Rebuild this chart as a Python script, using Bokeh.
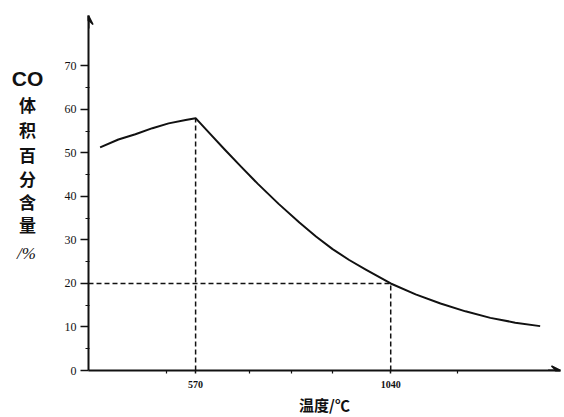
from bokeh.plotting import figure
from bokeh.layouts import row
from bokeh.models import Range1d, FixedTicker, Arrow, VeeHead, ColumnDataSource
from bokeh.core.properties import value
from bokeh.embed import file_html
from bokeh.resources import INLINE

# ---- data ----
temperature = [340, 384, 425, 466, 505, 546, 570, 600, 640, 680, 720, 770, 820, 860,
               900, 940, 980, 1040, 1100, 1160, 1220, 1280, 1340, 1400]
co_percent = [51.3, 53.1, 54.3, 55.7, 56.8, 57.6, 58.0, 54.9, 50.8, 46.8, 42.9, 38.3, 34.0, 30.8,
              27.9, 25.4, 23.2, 20.0, 17.5, 15.4, 13.6, 12.1, 11.0, 10.2]

peak_temp = 570
peak_co = 58.0
mark_temp = 1040
mark_co = 20

y_ticks = [0, 10, 20, 30, 40, 50, 60, 70]
y_minor = [5, 15, 25, 35, 45, 55, 65]
x_ticks = [570, 1040]
x_minor = [500, 700, 800, 900, 1200]

x_start, x_end = 312, 1449
y_start, y_end = 0, 81.6

ylabel_lines = ["CO", "体", "积", "百", "分", "含", "量", "/%"]

INK = "#111111"

# ---- left strip holding the stacked y-axis title ----
lab = figure(width=50, height=417, output_backend="svg", toolbar_location=None,
             x_range=Range1d(0, 50), y_range=Range1d(417, 0),
             min_border=0, min_border_left=0, min_border_right=0,
             min_border_top=0, min_border_bottom=0)
lab.axis.visible = False
lab.grid.visible = False
lab.outline_line_color = None
lab.border_fill_color = "white"

label_pos = [74, 104, 134, 163, 191, 218, 246, 279]
cjk = ColumnDataSource(dict(x=[27] * 6, y=label_pos[1:7], t=ylabel_lines[1:7]))
lab.text(x=27, y=label_pos[0], text=[ylabel_lines[0]], text_font=value("Liberation Sans"),
         text_font_size="21px", text_font_style="bold", text_align="center",
         text_baseline="middle", text_color=INK)
lab.text(x="x", y="y", text="t", source=cjk, text_font=value("Noto Sans CJK SC"),
         text_font_size="17px", text_font_style="bold", text_align="center",
         text_baseline="middle", text_color=INK)
lab.text(x=26, y=label_pos[7], text=[ylabel_lines[7]], text_font=value("Liberation Serif"),
         text_font_size="17px", text_font_style="italic", text_align="center",
         text_baseline="middle", text_color=INK)

# ---- main chart ----
p = figure(width=514, height=417, output_backend="svg", toolbar_location=None,
           x_range=Range1d(x_start, x_end), y_range=Range1d(y_start, y_end),
           min_border_left=38, min_border_right=4, min_border_top=15, min_border_bottom=47)
p.outline_line_color = None
p.grid.visible = False
p.background_fill_color = "white"
p.border_fill_color = "white"

for ax in (p.xaxis, p.yaxis):
    ax.axis_line_width = 2
    ax.axis_line_color = INK
    ax.major_tick_line_color = INK
    ax.minor_tick_line_color = INK
    ax.major_tick_line_width = 1.5
    ax.minor_tick_line_width = 1.2
    ax.major_label_text_font = "Liberation Serif"
    ax.major_label_text_color = INK

p.yaxis.ticker = FixedTicker(ticks=y_ticks, minor_ticks=y_minor)
p.yaxis.major_tick_out = 8
p.yaxis.major_tick_in = 0
p.yaxis.minor_tick_out = 3
p.yaxis.minor_tick_in = 1
p.yaxis.major_label_standoff = 4
p.yaxis.major_label_text_font_size = "12px"

p.xaxis.ticker = FixedTicker(ticks=x_ticks, minor_ticks=x_minor)
p.xaxis.major_tick_out = 3
p.xaxis.major_tick_in = 0
p.xaxis.minor_tick_out = 3
p.xaxis.minor_tick_in = 0
p.xaxis.major_label_standoff = 7
p.xaxis.major_label_text_font_size = "10px"
p.xaxis.major_label_text_font_style = "bold"
p.xaxis.axis_label = "温度/℃"
p.xaxis.axis_label_text_font = "Noto Sans CJK SC"
p.xaxis.axis_label_text_font_size = "15px"
p.xaxis.axis_label_text_font_style = "bold"
p.xaxis.axis_label_standoff = 3
p.xaxis.axis_label_text_color = INK

# arrow heads at axis ends
p.add_layout(Arrow(x_start=x_end - 30, y_start=0, x_end=x_end, y_end=0,
                   line_color=INK, line_width=2,
                   end=VeeHead(size=9, line_color=INK, fill_color=INK, line_width=1.5)))
p.add_layout(Arrow(x_start=x_start, y_start=y_end - 3, x_end=x_start, y_end=y_end,
                   line_color=INK, line_width=2,
                   end=VeeHead(size=9, line_color=INK, fill_color=INK, line_width=1.5)))

# dashed reference lines
p.line([peak_temp, peak_temp], [0, peak_co], line_dash="5 3", line_color=INK, line_width=1.5)
p.line([x_start, mark_temp], [mark_co, mark_co], line_dash="5 3", line_color=INK, line_width=1.5)
p.line([mark_temp, mark_temp], [0, mark_co], line_dash="5 3", line_color=INK, line_width=1.5)

# main curve
p.line(temperature, co_percent, line_color=INK, line_width=2, line_join="round")

layout = row(lab, p, spacing=0)
open("out.html", "w").write(file_html(layout, INLINE))
